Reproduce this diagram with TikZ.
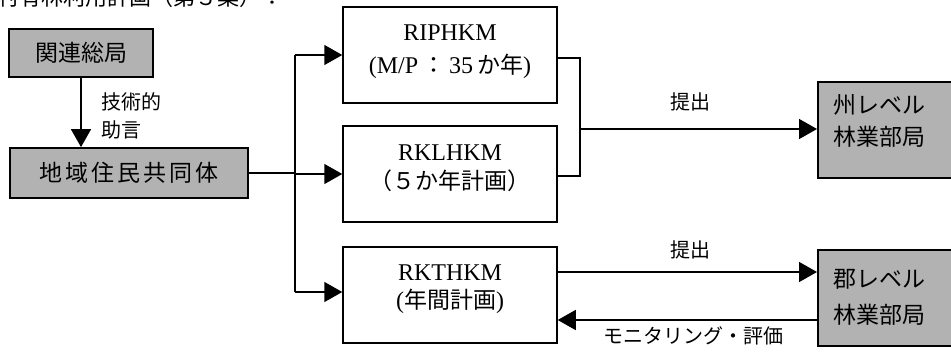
\documentclass[tikz,border=0pt]{standalone}
\usepackage{fontspec}
\setmainfont{Liberation Serif}
\newfontfamily\jp{Noto Sans CJK JP}
\usetikzlibrary{arrows.meta}
\begin{document}
\begin{tikzpicture}[x=1pt,y=-1pt,
  graybox/.style={draw, line width=1.8pt, fill=black!30, inner sep=0pt},
  whitebox/.style={draw, line width=1.5pt, fill=white, inner sep=0pt, minimum width=214pt, minimum height=96pt},
  boxtxt/.style={inner sep=0pt, align=center},
  jpbig/.style={font=\jp\fontsize{23}{30}\selectfont},
  lab/.style={inner sep=0pt, font=\jp\fontsize{20}{28}\selectfont},
  conn/.style={line width=1.5pt},
  arr/.style={conn, -{Triangle[length=18pt,width=20pt]}}]
\useasboundingbox (0,0) rectangle (951,351);
\clip (0,0) rectangle (951,351);
% clipped title line (only its lower edge shows, as in the reference)
\node[anchor=south west, inner sep=0pt, font=\jp\fontsize{22}{26}\selectfont] (title) at (-3,8) {村有林利用計画（第３案）：};
% left boxes
\node[graybox, minimum width=144pt, minimum height=48pt, jpbig] (kanren) at (81,53) {関連総局};
\node[graybox, minimum width=238pt, minimum height=50pt, jpbig] (chiiki) at (129,173) {地\kern3pt 域\kern3pt 住\kern3pt 民\kern3pt 共\kern3pt 同\kern3pt 体};
\draw[arr] (kanren.south) -- (kanren.south |- chiiki.north);
\node[lab, anchor=west, align=left] (advice) at (101,116) {技術的\\助言};
% plan boxes
\node[whitebox] (rip) at (450,55) {};
\node[whitebox] (rkl) at (450,174) {};
\node[whitebox] (rkt) at (450,295) {};
\node[boxtxt, font=\fontsize{24}{33}\selectfont] (riptxt) at ([yshift=3.5pt]rip.center) {RIPHKM\\(M/P\,{\jp\fontsize{23}{33}\selectfont ：}\,35\,{\jp\fontsize{23}{33}\selectfont か年})};
\node[boxtxt, font=\fontsize{24}{29}\selectfont] (rkltxt) at ([yshift=5.5pt]rkl.center) {RKLHKM\\{\jp\fontsize{23}{29}\selectfont （５か年計画）}};
\node[boxtxt, font=\fontsize{24}{28}\selectfont] (rkttxt) at ([yshift=6pt]rkt.center) {RKTHKM\\({\jp\fontsize{23}{28}\selectfont 年間計画})};
% right boxes
\node[graybox, minimum width=180pt, minimum height=96pt, anchor=north west] (state) at (817,81) {};
\node[inner sep=0pt, anchor=west, align=left, font=\jp\fontsize{23}{32}\selectfont] (statetxt) at (833,121) {州レベル\\林業部局};
\node[graybox, minimum width=180pt, minimum height=96pt, anchor=north west] (district) at (817,249) {};
\node[inner sep=0pt, anchor=west, align=left, font=\jp\fontsize{23}{36}\selectfont] (districttxt) at (833,297) {郡レベル\\林業部局};
% branching from community
\coordinate (j) at (295,174);
\coordinate (jt) at (295,55);
\coordinate (jb) at (295,292);
\draw[conn] (chiiki.east) -- (chiiki.east -| j);
\draw[conn] (jt) -- (jb);
\draw[arr] (jt) -- (jt -| rip.west);
\draw[arr] (j) -- (j -| rkl.west);
\draw[arr] (jb) -- (jb -| rkt.west);
% merge to state
\coordinate (ra) at (580,58);
\coordinate (rb) at (580,176);
\coordinate (m) at (580,129);
\draw[conn] (ra -| rip.east) -- (ra) -- (rb) -- (rb -| rkl.east);
\draw[arr] (m) -- (m -| state.west);
\node[lab] (submit1) at (690,102) {提出};
% district exchange
\coordinate (sa) at (600,272);
\coordinate (sb) at (600,320);
\draw[arr] (sa -| rkt.east) -- (sa -| district.west);
\draw[arr] (sb -| district.west) -- (sb -| rkt.east);
\node[lab] (submit2) at (690,250) {提出};
\node[lab] (monitor) at (693,336) {モニタリング・評価};
\end{tikzpicture}
\end{document}
